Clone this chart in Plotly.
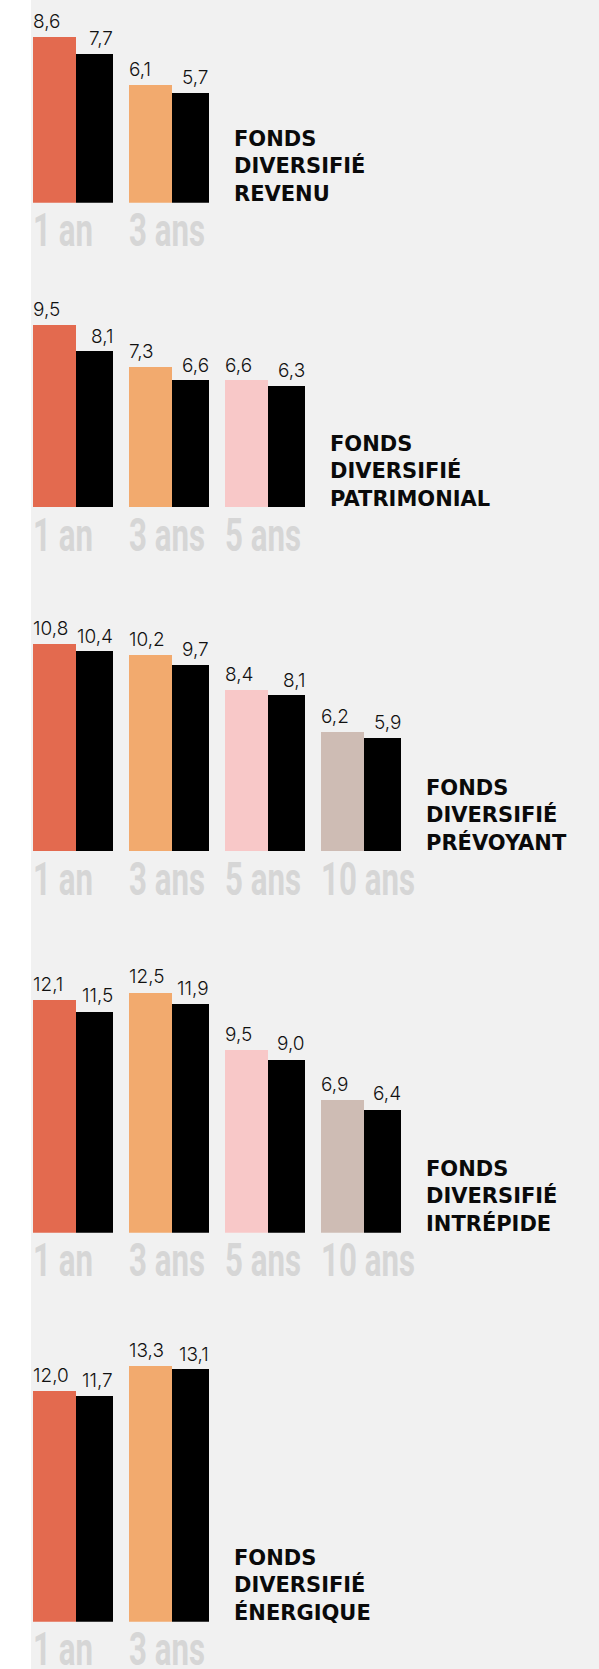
import plotly.graph_objects as go

# ---------------- data ----------------
periods_all = ["1 an", "3 ans", "5 ans", "10 ans"]
period_colors = ["#E36A4F", "#F2AA6E", "#F8C8C8", "#CEBCB4"]

titles = [
    "FONDS<br>DIVERSIFIÉ<br>REVENU",
    "FONDS<br>DIVERSIFIÉ<br>PATRIMONIAL",
    "FONDS<br>DIVERSIFIÉ<br>PRÉVOYANT",
    "FONDS<br>DIVERSIFIÉ<br>INTRÉPIDE",
    "FONDS<br>DIVERSIFIÉ<br>ÉNERGIQUE",
]
fund_revenu = [8.6, 6.1]
index_revenu = [7.7, 5.7]
fund_patrimonial = [9.5, 7.3, 6.6]
index_patrimonial = [8.1, 6.6, 6.3]
fund_prevoyant = [10.8, 10.2, 8.4, 6.2]
index_prevoyant = [10.4, 9.7, 8.1, 5.9]
fund_intrepide = [12.1, 12.5, 9.5, 6.9]
index_intrepide = [11.5, 11.9, 9.0, 6.4]
fund_energique = [12.0, 13.3]
index_energique = [11.7, 13.1]

panels = [
    (fund_revenu, index_revenu),
    (fund_patrimonial, index_patrimonial),
    (fund_prevoyant, index_prevoyant),
    (fund_intrepide, index_intrepide),
    (fund_energique, index_energique),
]

# ---------------- layout constants ----------------
W, H = 599, 1669
baselines_px = [202.7, 507.7, 851.7, 1232.7, 1621.7]
px_per_unit = 19.25
group_px = 96.0
left_px = 33.0
wc = 43 / group_px   # coloured bar width (axis units)
wb = 37 / group_px   # black bar width

BG = "#F1F1F1"
LABEL_FONT = dict(family="Inter, Lato, sans-serif", size=19, color="#111111", weight=300)
TITLE_FONT = dict(family="DejaVu Sans, sans-serif", size=21, color="#0a0a0a", weight="bold")
XLAB_FONT = dict(family="Roboto, sans-serif", size=46, color="#D6D6D6", weight="bold")
XLAB_SCALE = 0.68

fmt = lambda v: f"{v:.1f}".replace(".", ",")

fig = go.Figure()
annotations = []
xlabel_idx = []
layout_axes = {}

for i, (fund, idx) in enumerate(panels):
    n = i + 1
    xa = "x" if n == 1 else f"x{n}"
    ya = "y" if n == 1 else f"y{n}"
    base = baselines_px[i]
    R = min(max(fund + idx) + 2.0, (base - 1) / px_per_unit)
    top_px = base - R * px_per_unit
    dom = [1 - base / H, 1 - top_px / H]
    xs = list(range(len(fund)))

    fig.add_trace(go.Bar(
        x=xs, y=fund, offset=0, width=wc,
        marker=dict(color=period_colors[:len(fund)], line=dict(width=0)),
        xaxis=xa, yaxis=ya, showlegend=False, hoverinfo="skip",
    ))
    fig.add_trace(go.Bar(
        x=xs, y=idx, offset=wc, width=wb,
        marker=dict(color="#000000", line=dict(width=0)),
        xaxis=xa, yaxis=ya, showlegend=False, hoverinfo="skip",
    ))

    xkey = "xaxis" if n == 1 else f"xaxis{n}"
    ykey = "yaxis" if n == 1 else f"yaxis{n}"
    layout_axes[xkey] = dict(
        domain=[0, 1], range=[-left_px / group_px, (W - left_px) / group_px],
        visible=False, fixedrange=True, anchor=ya,
    )
    layout_axes[ykey] = dict(
        domain=dom, range=[0, R], visible=False, fixedrange=True, anchor=xa,
    )

    for g in xs:
        annotations.append(dict(
            x=g, y=fund[g], xref=xa, yref=ya, text=fmt(fund[g]),
            xanchor="left", yanchor="bottom", xshift=-2, yshift=2,
            showarrow=False, font=LABEL_FONT,
        ))
        annotations.append(dict(
            x=g + wc + wb, y=idx[g], xref=xa, yref=ya, text=fmt(idx[g]),
            xanchor="right", yanchor="bottom", xshift=2, yshift=2,
            showarrow=False, font=LABEL_FONT,
        ))
        xlabel_idx.append(len(annotations))
        annotations.append(dict(
            x=g, y=0, xref=xa, yref=ya, text=periods_all[g],
            xanchor="left", yanchor="top", xshift=-2, yshift=2,
            showarrow=False, font=XLAB_FONT,
        ))
    annotations.append(dict(
        x=len(fund) - 1 + wc + wb, y=0, xref=xa, yref=ya, text=titles[i],
        xanchor="left", yanchor="bottom", xshift=23, yshift=-5, align="left",
        showarrow=False, font=TITLE_FONT,
    ))

fig.update_layout(
    width=W, height=H,
    margin=dict(l=0, r=0, t=0, b=0),
    paper_bgcolor=BG, plot_bgcolor="rgba(0,0,0,0)",
    barmode="overlay", bargap=0,
    annotations=annotations,
    shapes=[dict(type="rect", xref="paper", yref="paper", x0=0, x1=31 / W, y0=0, y1=1,
                 fillcolor="#FFFFFF", line=dict(width=0), layer="below")],
    **layout_axes,
)

post = """
document.body.style.margin = '0';
document.documentElement.style.overflow = 'hidden';
document.body.style.overflow = 'hidden';
var IDX = __IDX__;
document.querySelectorAll('g.annotation').forEach(function (g) {
  var i = +g.getAttribute('data-index');
  if (IDX.indexOf(i) >= 0) {
    g.querySelectorAll('text').forEach(function (t) {
      t.style.transformBox = 'fill-box';
      t.style.transformOrigin = 'left center';
      t.style.transform = 'scaleX(__SCALE__)';
    });
  }
});
""".replace("__IDX__", str(xlabel_idx)).replace("__SCALE__", str(XLAB_SCALE))

fig.write_html("out.html", config={"displayModeBar": False}, post_script=post)
